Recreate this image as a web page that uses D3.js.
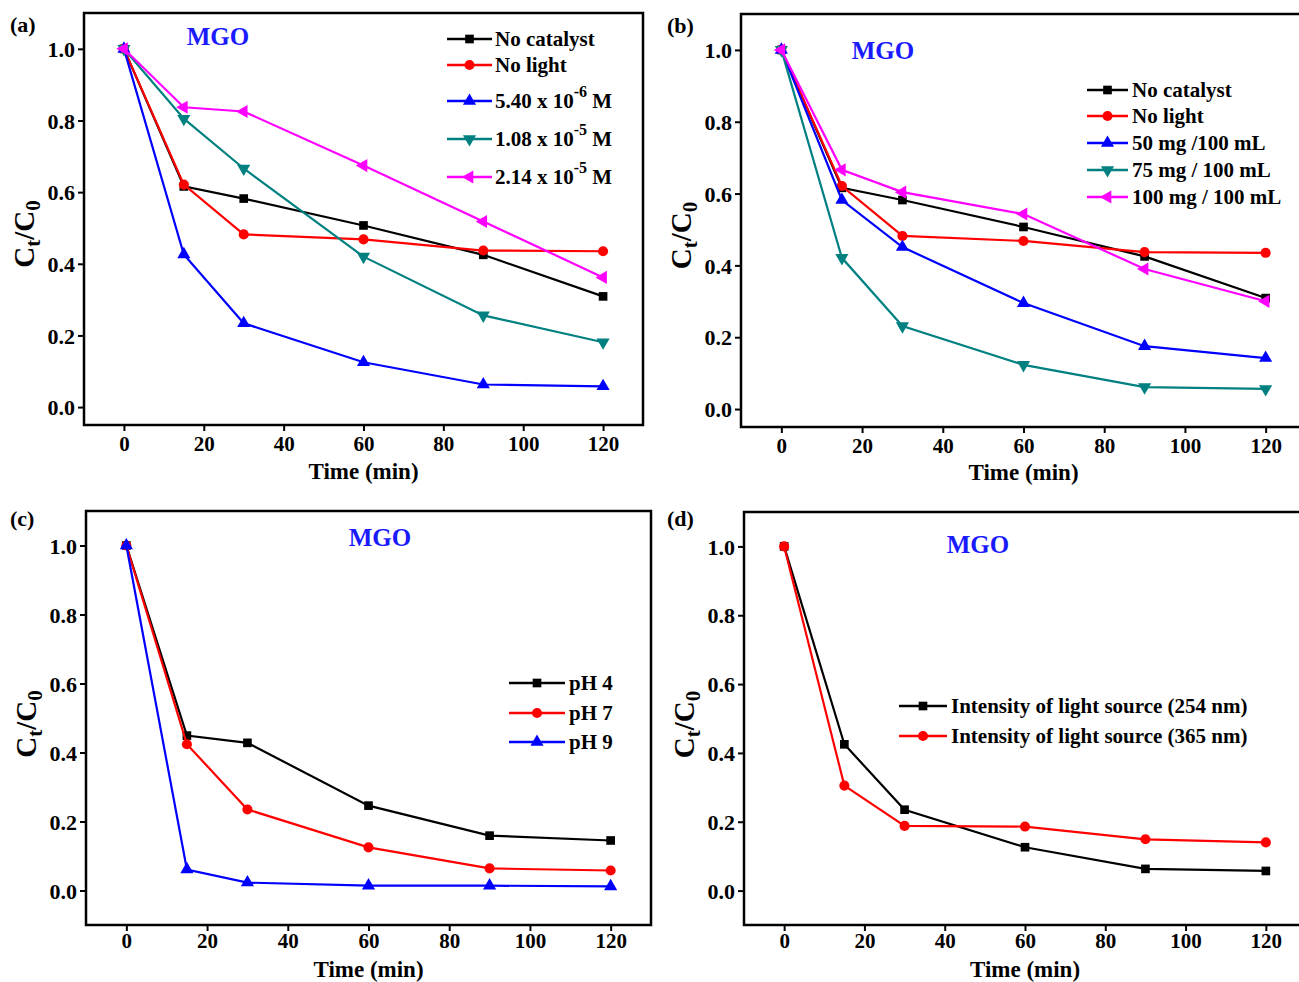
<!DOCTYPE html>
<html>
<head>
<meta charset="utf-8">
<script src="https://cdn.jsdelivr.net/npm/d3@7"></script>
<style>
  body { margin: 0; background: #fff; }
  text { font-family: "Liberation Serif", "Times New Roman", serif; font-weight: bold; }
</style>
</head>
<body>
<div id="visual"></div>
<script>
// time points (min), shared by every panel
times = [0, 15, 30, 60, 90, 120]

// panel (a) - dye concentration
noCatalyst = [1.0, 0.616, 0.582, 0.507, 0.425, 0.309]
noLight = [1.0, 0.621, 0.482, 0.468, 0.437, 0.435]
conc540e6 = [1.0, 0.426, 0.234, 0.125, 0.063, 0.058]
conc108e5 = [1.0, 0.805, 0.666, 0.42, 0.256, 0.181]
conc214e5 = [1.0, 0.837, 0.825, 0.674, 0.518, 0.362]

// panel (b) - catalyst dose
dose50 = [1.0, 0.582, 0.451, 0.295, 0.175, 0.142]
dose75 = [1.0, 0.421, 0.231, 0.123, 0.061, 0.056]
dose100 = [1.0, 0.666, 0.604, 0.543, 0.39, 0.30]

// panel (c) - pH
ph4 = [1.0, 0.449, 0.428, 0.246, 0.159, 0.145]
ph7 = [1.0, 0.424, 0.235, 0.125, 0.064, 0.058]
ph9 = [1.0, 0.061, 0.023, 0.014, 0.014, 0.012]

// panel (d) - light source
light254 = [1.0, 0.425, 0.235, 0.126, 0.063, 0.057]
light365 = [1.0, 0.305, 0.188, 0.186, 0.149, 0.14]

xTicks = [0, 20, 40, 60, 80, 100, 120]
yTicks = [0.0, 0.2, 0.4, 0.6, 0.8, 1.0]

const colors = { black: "#000000", red: "#ff0000", blue: "#0000ff", teal: "#008080", magenta: "#ff00ff" }

const panels = [{
  tag: "(a)", tagPos: [10, 32], left: 84, top: 13, right: 643, bottom: 425, yMin: -0.05, titleY: 479, pad: 5,
  mgo: [218, 45], legend: { x1: 447, x2: 492, tx: 495, ys: [39, 65, 101, 139, 177] },
  series: [
    { name: ["No catalyst"], values: noCatalyst, color: colors.black, shape: "square" },
    { name: ["No light"], values: noLight, color: colors.red, shape: "circle" },
    { name: ["5.40 x 10", "-6", " M"], values: conc540e6, color: colors.blue, shape: "up" },
    { name: ["1.08 x 10", "-5", " M"], values: conc108e5, color: colors.teal, shape: "down" },
    { name: ["2.14 x 10", "-5", " M"], values: conc214e5, color: colors.magenta, shape: "left" }
  ]
}, {
  tag: "(b)", tagPos: [667, 33], left: 741, top: 14, right: 1306, bottom: 427, yMin: -0.05, titleY: 480, pad: 5,
  mgo: [883, 59], legend: { x1: 1087, x2: 1128, tx: 1132, ys: [90, 116, 143, 170, 197] },
  series: [
    { name: ["No catalyst"], values: noCatalyst, color: colors.black, shape: "square" },
    { name: ["No light"], values: noLight, color: colors.red, shape: "circle" },
    { name: ["50 mg /100 mL"], values: dose50, color: colors.blue, shape: "up" },
    { name: ["75 mg / 100 mL"], values: dose75, color: colors.teal, shape: "down" },
    { name: ["100 mg / 100 mL"], values: dose100, color: colors.magenta, shape: "left" }
  ]
}, {
  tag: "(c)", tagPos: [10, 526], left: 86, top: 511, right: 651, bottom: 925, yMin: -0.1, titleY: 977, pad: 2,
  mgo: [380, 546], legend: { x1: 509, x2: 565, tx: 569, ys: [683, 713, 742] },
  series: [
    { name: ["pH 4"], values: ph4, color: colors.black, shape: "square" },
    { name: ["pH 7"], values: ph7, color: colors.red, shape: "circle" },
    { name: ["pH 9"], values: ph9, color: colors.blue, shape: "up" }
  ]
}, {
  tag: "(d)", tagPos: [667, 526], left: 744, top: 512, right: 1306, bottom: 925, yMin: -0.1, titleY: 977, pad: 2,
  mgo: [978, 553], legend: { x1: 899, x2: 947, tx: 951, ys: [706, 736] },
  series: [
    { name: ["Intensity of light source (254 nm)"], values: light254, color: colors.black, shape: "square" },
    { name: ["Intensity of light source (365 nm)"], values: light365, color: colors.red, shape: "circle" }
  ]
}]

const svg = d3.select('#visual').append('svg')
  .attr("width", 1299)
  .attr("height", 982)
  .style("display", "block")

function marker(g, shape, color, cx, cy) {
  const types = { square: d3.symbolSquare, circle: d3.symbolCircle, up: d3.symbolTriangle, down: d3.symbolTriangle, left: d3.symbolTriangle }
  const rot = { square: 0, circle: 0, up: 0, down: 180, left: -90 }
  const size = shape == "circle" ? 80 : 75
  g.append("path")
    .attr("d", d3.symbol().type(types[shape]).size(size)())
    .attr("transform", `translate(${cx},${cy}) rotate(${rot[shape]})`)
    .attr("fill", color)
}

for (p of panels) {
  const x = d3.scaleLinear().domain([-10, 130]).range([p.left, p.right])
  const y = d3.scaleLinear().domain([p.yMin, 1.1]).range([p.bottom, p.top])
  const g = svg.append("g")

  // axes
  const xAxis = d3.axisBottom(x).tickValues(xTicks).tickSize(6).tickPadding(p.pad).tickFormat(d3.format("d"))
  const yAxis = d3.axisLeft(y).tickValues(yTicks).tickSize(6).tickPadding(3).tickFormat(d3.format(".1f"))
  g.append("g").attr("transform", `translate(0,${p.bottom})`).call(xAxis)
    .call(a => a.select(".domain").remove())
    .call(a => a.selectAll("line").attr("stroke-width", 2))
    .call(a => a.selectAll("text").attr("font-size", 21).attr("fill", "#000"))
  g.append("g").attr("transform", `translate(${p.left},0)`).call(yAxis)
    .call(a => a.select(".domain").remove())
    .call(a => a.selectAll("line").attr("stroke-width", 2))
    .call(a => a.selectAll("text").attr("font-size", 22).attr("fill", "#000").attr("dy", "0.35em"))

  g.append("rect")
    .attr("x", p.left).attr("y", p.top)
    .attr("width", p.right - p.left).attr("height", p.bottom - p.top)
    .attr("fill", "none").attr("stroke", "#000").attr("stroke-width", 2.5)

  // titles
  g.append("text").attr("x", x(60)).attr("y", p.titleY)
    .attr("text-anchor", "middle").attr("font-size", 23).text("Time (min)")
  const yl = g.append("text")
    .attr("transform", `translate(${p.left - 50},${y(0.5) + 6}) rotate(-90)`)
    .attr("text-anchor", "middle").attr("font-size", 29)
  yl.append("tspan").text("C")
  yl.append("tspan").attr("font-size", 21).attr("dy", 6).text("t")
  yl.append("tspan").attr("dy", -6).text("/C")
  yl.append("tspan").attr("font-size", 21).attr("dy", 6).text("0")

  g.append("text").attr("x", p.tagPos[0]).attr("y", p.tagPos[1]).attr("font-size", 22).text(p.tag)
  g.append("text").attr("x", p.mgo[0]).attr("y", p.mgo[1]).attr("text-anchor", "middle")
    .attr("font-size", 25).attr("fill", "#1a1aff").text("MGO")

  // lines and markers
  const line = d3.line().x((d, i) => x(times[i])).y(d => y(d))
  p.series.forEach((s, k) => {
    g.append("path").datum(s.values).attr("d", line)
      .attr("fill", "none").attr("stroke", s.color).attr("stroke-width", 2.2)
    s.values.forEach((v, i) => marker(g, s.shape, s.color, x(times[i]), y(v)))

    // legend entry
    const ly = p.legend.ys[k]
    g.append("line").attr("x1", p.legend.x1).attr("x2", p.legend.x2).attr("y1", ly).attr("y2", ly)
      .attr("stroke", s.color).attr("stroke-width", 2.5)
    marker(g, s.shape, s.color, (p.legend.x1 + p.legend.x2) / 2, ly)
    const t = g.append("text").attr("x", p.legend.tx).attr("y", ly + 7).attr("font-size", 21)
    t.append("tspan").text(s.name[0])
    if (s.name.length > 1) {
      t.append("tspan").attr("font-size", 16).attr("dy", -11).text(s.name[1])
      t.append("tspan").attr("dy", 11).text(s.name[2])
    }
  })
}
</script>
</body>
</html>
